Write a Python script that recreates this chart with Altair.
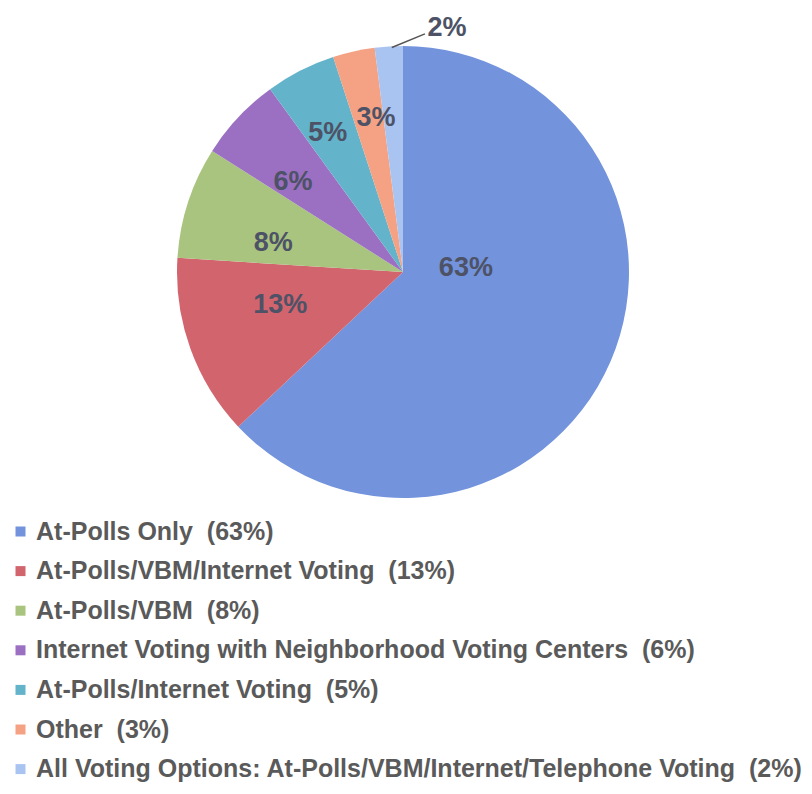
import math
import altair as alt
import pandas as pd

# ---- data ----
categories = [
    "At-Polls Only",
    "At-Polls/VBM/Internet Voting",
    "At-Polls/VBM",
    "Internet Voting with Neighborhood Voting Centers",
    "At-Polls/Internet Voting",
    "Other",
    "All Voting Options: At-Polls/VBM/Internet/Telephone Voting",
]
shares = [63, 13, 8, 6, 5, 3, 2]

# ---- style ----
colors = ["#7393dc", "#d2646e", "#a9c47f", "#9b70c2", "#63b3ca", "#f4a283", "#aac4f2"]
label_angle_deg = [86.4, 255.0, 282.6, 309.3, 331.6, 350.0, 10.2]
label_radius = [63, 127, 133, 142, 158, 156, 248]

W, H = 790, 770
CX, CY, R = 395, 264, 226
FONT = "Liberation Sans"
LABEL_COLOR = "#4d5266"

legend_labels = [f"{c}\u00a0\u00a0({s}%)" for c, s in zip(categories, shares)]
df = pd.DataFrame({
    "cat": legend_labels,
    "share": shares,
    "order": list(range(len(shares))),
    "pct": [f"{s}%" for s in shares],
    "lt": [math.radians(a) for a in label_angle_deg],
    "lr": label_radius,
})

base = alt.Chart(df)

pie = base.mark_arc(outerRadius=R, stroke=None).encode(
    theta=alt.Theta("share:Q", stack=True),
    order=alt.Order("order:Q"),
    color=alt.Color(
        "cat:N",
        sort=legend_labels,
        scale=alt.Scale(domain=legend_labels, range=colors),
        legend=alt.Legend(
            title=None,
            orient="none",
            legendX=0,
            legendY=511,
            padding=0,
            symbolType="square",
            symbolSize=100,
            symbolStrokeWidth=0,
            labelFont=FONT,
            labelFontSize=25,
            labelFontWeight="bold",
            labelColor="#5a5a5a",
            labelLimit=0,
            rowPadding=13.6,
            symbolOffset=0,
            labelOffset=3,
        ),
    ),
    x=alt.value(CX),
    y=alt.value(CY),
)

labels = base.mark_text(
    font=FONT, fontSize=27, fontWeight="bold", color=LABEL_COLOR,
    align="center", baseline="middle",
).encode(
    theta=alt.Theta("lt:Q", scale=None),
    radius=alt.Radius("lr:Q", scale=None),
    text="pct:N",
    x=alt.value(CX),
    y=alt.value(CY),
)

# leader line for the smallest slice
mid_small = (sum(shares) - shares[-1] / 2) / sum(shares) * 2 * math.pi
sx = CX + R * math.sin(mid_small)
sy = CY - R * math.cos(mid_small)
la = math.radians(label_angle_deg[-1])
lx = CX + label_radius[-1] * math.sin(la)
ly = CY - label_radius[-1] * math.cos(la)
leader = alt.Chart(pd.DataFrame({"k": [0]})).mark_rule(
    color="#555555", strokeWidth=1.5
).encode(
    x=alt.value(sx + 3), y=alt.value(sy + 1),
    x2=alt.value(lx - 22), y2=alt.value(ly + 6),
)

chart = alt.layer(pie, labels, leader).properties(
    width=W, height=H, padding=0, background="white"
).configure_view(stroke=None)

chart.save("out.html", embed_options={"renderer": "svg", "actions": False})
